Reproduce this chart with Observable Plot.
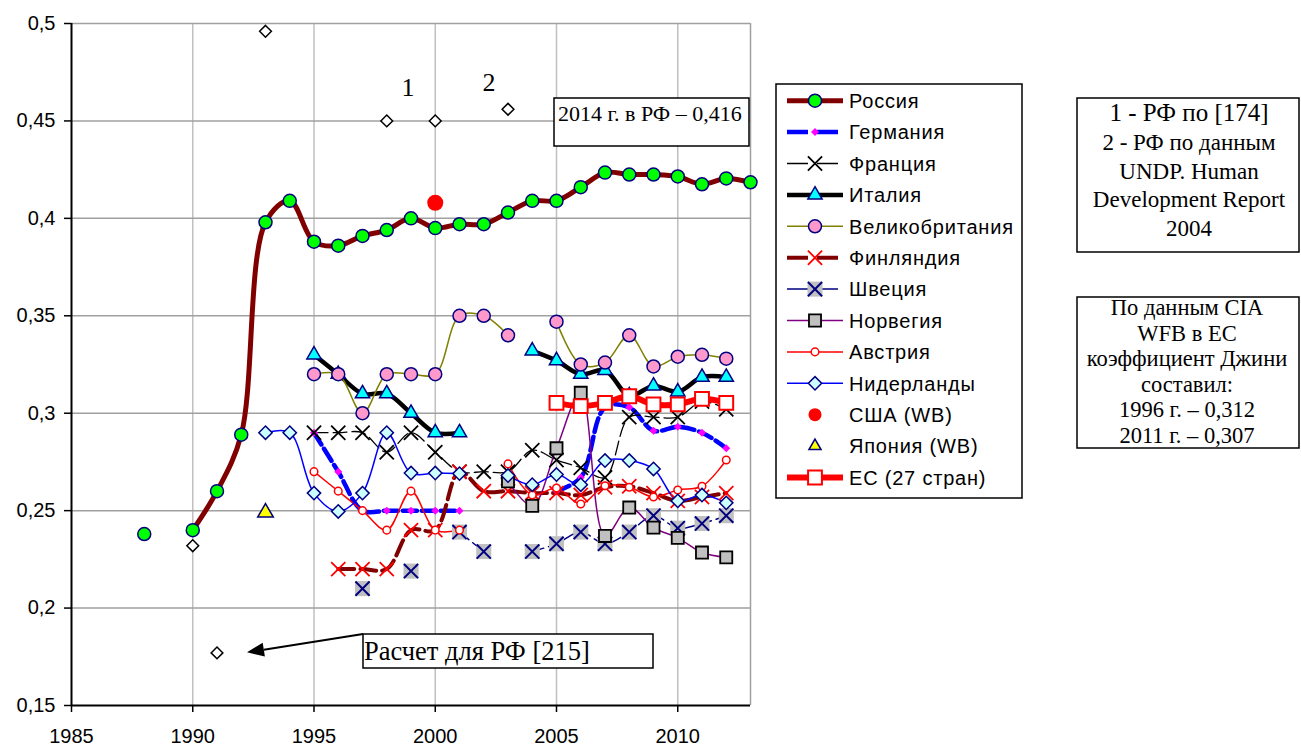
<!DOCTYPE html>
<html><head><meta charset="utf-8">
<script src="https://cdn.jsdelivr.net/npm/d3@7"></script>
<script src="https://cdn.jsdelivr.net/npm/@observablehq/plot@0.6"></script>
<style>
html,body{margin:0;padding:0;background:#fff;}
#chart svg{display:block;}
</style></head><body><div id="chart"></div>
<script>
const N = null;
const years = [1988,1989,1990,1991,1992,1993,1994,1995,1996,1997,1998,1999,2000,2001,2002,2003,2004,2005,2006,2007,2008,2009,2010,2011,2012,2013];
const russia      = [0.238,N,0.240,0.260,0.289,0.398,0.409,0.388,0.386,0.391,0.394,0.400,0.395,0.397,0.397,0.403,0.409,0.409,0.416,0.4235,0.4225,0.4225,0.4215,0.4175,0.4205,0.4185];
const germany     = [N,N,N,N,N,N,N,0.29,0.27,0.25,0.25,0.25,0.25,0.25,N,N,N,0.26,0.267,0.303,0.303,0.291,0.293,0.29,0.282,N];
const france      = [N,N,N,N,N,N,N,0.29,0.29,0.29,0.28,0.29,0.28,0.27,0.27,0.27,0.281,0.276,0.272,0.267,0.298,0.298,0.298,0.306,0.302,N];
const italy       = [N,N,N,N,N,N,N,0.33,0.32,0.31,0.31,0.30,0.29,0.29,N,N,0.332,0.327,0.32,0.322,0.309,0.314,0.311,0.3185,0.3185,N];
const uk          = [N,N,N,N,N,N,N,0.32,0.32,0.30,0.32,0.32,0.32,0.35,0.35,0.34,N,0.347,0.325,0.326,0.34,0.324,0.329,0.33,0.328,N];
const finland     = [N,N,N,N,N,N,N,N,0.22,0.22,0.22,0.24,0.24,0.27,0.26,0.26,0.259,0.259,0.258,0.262,0.2625,0.259,0.255,0.257,0.259,N];
const sweden      = [N,N,N,N,N,N,N,N,N,0.21,N,0.219,N,0.239,0.229,N,0.229,0.233,0.239,0.233,0.239,0.2474,0.241,0.2434,0.2474,N];
const norway      = [N,N,N,N,N,N,N,N,N,N,N,N,N,N,N,0.265,0.2525,0.282,0.3105,0.237,0.2516,0.2413,0.236,0.2285,0.226,N];
const austria     = [N,N,N,N,N,N,N,0.27,0.26,0.25,0.24,0.26,0.24,0.24,N,0.274,0.258,0.2616,0.2534,0.2628,0.262,0.257,0.2606,0.2625,0.276,N];
const netherlands = [N,N,N,N,N,0.29,0.29,0.259,0.2496,0.259,0.29,0.2693,0.2693,0.269,N,0.268,0.2633,0.2685,0.2633,0.2757,0.2757,0.2714,0.255,0.258,0.254,N];
const eu          = [N,N,N,N,N,N,N,N,N,N,N,N,N,N,N,N,N,0.3053,0.3036,0.3053,0.3087,0.3045,0.3045,0.3074,0.3053,N];
const usaYears = [2000];
const usa = [0.408];
const japanYears = [1993];
const japan = [0.249];
const rfOtherYears = [1990,1991,1993,1998,2000,2003];
const rfOther = [0.232,0.177,0.496,0.45,0.45,0.456];

const xTicks = [1985,1990,1995,2000,2005,2010];
const xTickLabels = ["1985","1990","1995","2000","2005","2010"];
const yTicks = [0.15,0.2,0.25,0.3,0.35,0.4,0.45,0.5];
const yTickLabels = ["0,15","0,2","0,25","0,3","0,35","0,4","0,45","0,5"];
const seriesNames = ["Россия","Германия","Франция","Италия","Великобритания","Финляндия","Швеция","Норвегия","Австрия","Нидерланды","США (WB)","Япония (WB)","ЕС (27 стран)"];

const series = [
  {values: russia, stroke:"#800000", sw:5, symbol:"circle", r:6.5, fill:"#00FF00", ms:"#000080", msw:1.5},
  {values: germany, stroke:"#0000FF", sw:4.5, dash:"14,5", symbol:"diamond2", r:3.6, fill:"#FF00FF", ms:"none", msw:0},
  {values: france, stroke:"#000000", sw:1.3, dash:"14,5", symbol:"times", r:6.5, fill:"none", ms:"#000000", msw:1.8},
  {values: italy, stroke:"#000000", sw:4.5, symbol:"triangle", r:5.3, fill:"#00FFFF", ms:"#000080", msw:1.5},
  {values: uk, stroke:"#808000", sw:1.5, symbol:"circle", r:6.5, fill:"#FF99CC", ms:"#000080", msw:1.5},
  {values: finland, stroke:"#800000", sw:4, dash:"16,6", symbol:"times", r:6.5, fill:"none", ms:"#FF0000", msw:1.8},
  {values: sweden, stroke:"#000080", sw:1.5, dash:"12,5", symbol:"times", r:6.5, fill:"none", ms:"#000080", msw:2, bg:"#C0C0C0", bgr:8.5},
  {values: norway, stroke:"#800080", sw:1.5, symbol:"square", r:6.8, fill:"#C0C0C0", ms:"#000000", msw:1.8},
  {values: austria, stroke:"#FF0000", sw:1.5, symbol:"circle", r:3.8, fill:"#FFFFFF", ms:"#FF0000", msw:1.5},
  {values: netherlands, stroke:"#0000FF", sw:1.5, symbol:"diamond2", r:6, fill:"#CCFFFF", ms:"#000080", msw:1.5},
  {values: usa, xs: usaYears, stroke:null, symbol:"circle", r:8, fill:"#FF0000", ms:"none", msw:0, lr:6.5},
  {values: japan, xs: japanYears, stroke:null, symbol:"triangle", r:5.8, fill:"#FFFF00", ms:"#000080", msw:1.5, lr:4.5},
  {values: eu, stroke:"#FF0000", sw:6, symbol:"square", r:7.8, fill:"#FFFFFF", ms:"#FF0000", msw:2}
];
series.forEach((s,i)=> s.name = seriesNames[i]);

const rows = s => (s.xs || years).map((y,i)=>({year:y, v:s.values[i]}));

const marks = [
  Plot.ruleX(xTicks.slice(1), {stroke:"#c0c0c0", strokeWidth:1.5}),
  Plot.ruleX([2013], {stroke:"#a0a0a0", strokeWidth:1.5}),
  Plot.ruleY(yTicks.slice(1), {stroke:"#a0a0a0", strokeWidth:1.5})
];
for (const s of series) {
  if (s.stroke) marks.push(Plot.line(rows(s), {x:"year", y:"v", stroke:s.stroke, strokeWidth:s.sw, strokeDasharray:s.dash, curve:"catmull-rom"}));
}
for (const s of series) {
  const pts = rows(s).filter(d=>d.v!=null);
  if (s.bg) marks.push(Plot.dot(pts, {x:"year", y:"v", symbol:"square", r:s.bgr, fill:s.bg, stroke:"none"}));
  marks.push(Plot.dot(pts, {x:"year", y:"v", symbol:s.symbol, r:s.r, fill:s.fill, stroke:s.ms, strokeWidth:s.msw}));
}
const rfPts = rfOtherYears.map((y,i)=>({year:y, v:rfOther[i]}));
marks.push(Plot.dot(rfPts, {x:"year", y:"v", symbol:"diamond2", r:5.3, fill:"#fff", stroke:"#000", strokeWidth:1.5}));
// source labels "1" and "2" placed relative to the source points
const serif = "'Liberation Serif','Times New Roman',serif";
marks.push(Plot.text([{year:(rfOtherYears[3]+rfOtherYears[4])/2, v:rfOther[3]}], {x:"year", y:"v", text:()=>"1", dx:-3, dy:-33, fontSize:26, fontFamily:serif, fill:"#000"}));
marks.push(Plot.text([{year:rfOtherYears[5], v:rfOther[5]}], {x:"year", y:"v", text:()=>"2", dx:-19, dy:-27, fontSize:26, fontFamily:serif, fill:"#000"}));

marks.push(
  Plot.axisY({ticks:yTicks, tickSize:7, tickPadding:9, fontSize:20, strokeWidth:1.5, tickFormat:d=>yTickLabels[yTicks.indexOf(d)], label:null}),
  Plot.axisX({ticks:xTicks, tickSize:7, tickPadding:16, fontSize:20, strokeWidth:1.5, tickFormat:d=>xTickLabels[xTicks.indexOf(d)], label:null}),
  Plot.ruleX([1985], {stroke:"#000", strokeWidth:2}),
  Plot.ruleY([0.15], {stroke:"#000", strokeWidth:2})
);

const chart = Plot.plot({
  width:1301, height:747,
  marginLeft:71, marginRight:551, marginTop:23, marginBottom:42,
  x:{domain:[1985,2013]},
  y:{domain:[0.15,0.5]},
  style:{fontFamily:"'Liberation Sans',Arial,sans-serif", fontSize:"20px", background:"#fff", color:"#000", overflow:"visible"},
  marks
});
document.getElementById("chart").appendChild(chart);

// ---- annotations & legend (drawn into the same svg) ----
const svg = d3.select(chart);
const symbolMap = {circle:d3.symbolCircle, times:d3.symbolTimes, triangle:d3.symbolTriangle, square:d3.symbolSquare, diamond2:d3.symbolDiamond2};

const ann = svg.append("g").attr("font-family", serif).attr("fill","#000").attr("text-anchor","start");
ann.append("rect").attr("x",554).attr("y",98).attr("width",195).attr("height",48).attr("fill","#fff").attr("stroke","#000").attr("stroke-width",1.5);
ann.append("text").attr("x",558).attr("y",121).attr("font-size",22).attr("text-anchor","start").text("2014 г. в РФ – 0,416");

ann.append("rect").attr("x",363).attr("y",634).attr("width",290).attr("height",34).attr("fill","#fff").attr("stroke","#000").attr("stroke-width",1.5);
ann.append("text").attr("x",364).attr("y",660).attr("font-size",26.5).attr("text-anchor","start").text("Расчет для РФ [215]");
// arrow
{
  const x0=363, y0=634, x1=247, y1=652.3;
  const ang = Math.atan2(y1-y0, x1-x0);
  const L=17, W=7;
  const bx = x1 - L*Math.cos(ang), by = y1 - L*Math.sin(ang);
  ann.append("line").attr("x1",x0).attr("y1",y0).attr("x2",bx).attr("y2",by).attr("stroke","#000").attr("stroke-width",2);
  const px = -Math.sin(ang), py = Math.cos(ang);
  ann.append("polygon").attr("points",[[x1,y1],[bx+W*px,by+W*py],[bx-W*px,by-W*py]].map(p=>p.join(",")).join(" ")).attr("fill","#000");
}

// right info boxes
const box1 = ["1 - РФ по [174]","2 - РФ по данным","UNDP. Human","Development Report","2004"];
const box2 = ["По данным CIA","WFB в ЕС","коэффициент Джини","составил:","1996 г. – 0,312","2011 г. – 0,307"];
ann.append("rect").attr("x",1077).attr("y",98).attr("width",222).attr("height",154).attr("fill","#fff").attr("stroke","#000").attr("stroke-width",1.5);
box1.forEach((t,i)=>ann.append("text").attr("x",1189).attr("y", i===0 ? 121 : 150 + (i-1)*28.5).attr("text-anchor","middle").attr("font-size", i===0?25:23).text(t));
ann.append("rect").attr("x",1077).attr("y",297).attr("width",222).attr("height",151).attr("fill","#fff").attr("stroke","#000").attr("stroke-width",1.5);
box2.forEach((t,i)=>ann.append("text").attr("x",1187).attr("y",315 + i*25.5).attr("text-anchor","middle").attr("font-size",22.5).text(t));

// legend
const lg = svg.append("g").attr("font-family","'Liberation Sans',Arial,sans-serif").attr("text-anchor","start");
lg.append("rect").attr("x",776).attr("y",84).attr("width",246).attr("height",414).attr("fill","#fff").attr("stroke","#000").attr("stroke-width",1.5);
series.forEach((s,i)=>{
  const cy = 100.7 + i*31.4;
  if (s.stroke) lg.append("line").attr("x1",787).attr("x2",843).attr("y1",cy).attr("y2",cy)
     .attr("stroke",s.stroke).attr("stroke-width",s.sw).attr("stroke-dasharray", s.dash ? "21,9" : null);
  const r = s.lr || s.r;
  if (s.bg) lg.append("path").attr("d", d3.symbol(d3.symbolSquare, Math.PI*s.bgr*s.bgr)()).attr("transform",`translate(815,${cy})`).attr("fill",s.bg);
  lg.append("path").attr("d", d3.symbol(symbolMap[s.symbol], Math.PI*r*r)()).attr("transform",`translate(815,${cy})`)
     .attr("fill", s.fill).attr("stroke", s.ms).attr("stroke-width", s.msw);
  lg.append("text").attr("x",849).attr("y",cy).attr("dy","0.36em").attr("font-size",20).attr("letter-spacing","0.8px").attr("text-anchor","start").attr("fill","#000").text(s.name);
});
</script></body></html>
